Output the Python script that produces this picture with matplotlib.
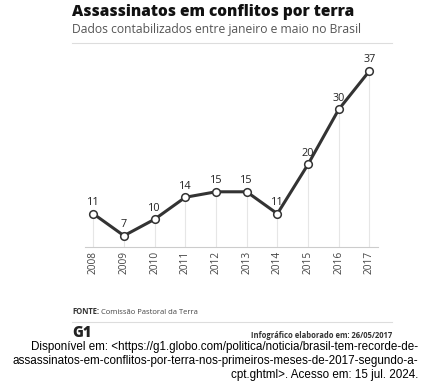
import matplotlib

matplotlib.use("Agg")
import matplotlib.pyplot as plt
from matplotlib.lines import Line2D

years = [2008, 2009, 2010, 2011, 2012, 2013, 2014, 2015, 2016, 2017]
killings = [11, 7, 10, 14, 15, 15, 11, 20, 30, 37]

C_LINE = "#333333"
C_GRID = "#e6e6e6"

W, H = 425, 386
fig = plt.figure(figsize=(W / 100, H / 100), dpi=100)


def fx(px):
    return px / W


def fy(py):
    return 1 - py / H


# header
fig.text(fx(72), fy(12), "Assassinatos em conflitos por terra", fontsize=11.2,
         fontweight="heavy", family="Open Sans", color="#111111", va="center")
fig.text(fx(72), fy(30), "Dados contabilizados entre janeiro e maio no Brasil", fontsize=8.7,
         family="Open Sans", color="#555555", va="center")
fig.add_artist(Line2D([fx(72), fx(392)], [fy(43), fy(43)], color="#dddddd", lw=0.8))

# chart
ax = fig.add_axes([fx(85), fy(246.7), fx(378) - fx(85), fy(60) - fy(246.7)])
ax.set_xlim(2007.73, 2017.28)
ax.set_ylim(5, 39)
ax.vlines(years, 5, killings, color=C_GRID, lw=0.8, zorder=1)
ax.plot(years, killings, color=C_LINE, lw=2.2, zorder=2,
        marker="o", markersize=5.5, markerfacecolor="white",
        markeredgecolor=C_LINE, markeredgewidth=1.1)
for x, y in zip(years, killings):
    ax.annotate(str(y), (x, y), xytext=(0, 4), textcoords="offset points",
                ha="center", va="bottom", fontsize=7.8, family="Open Sans",
                color="#222222", zorder=3)

for s in ["top", "right", "left"]:
    ax.spines[s].set_visible(False)
ax.spines["bottom"].set_color("#cccccc")
ax.spines["bottom"].set_linewidth(0.8)
ax.set_yticks([])
ax.set_xticks(years)
ax.set_xticklabels([str(y) for y in years], rotation=90, fontsize=7.3,
                   family="Open Sans", color="#444444")
ax.tick_params(axis="x", length=0, pad=3)
ax.patch.set_alpha(0)

# footer
fig.text(fx(72), fy(312), "FONTE:", fontsize=5.5, fontweight="bold",
         family="Open Sans", color="#333333", va="center")
fig.text(fx(101), fy(312), "Comissão Pastoral da Terra", fontsize=5.5,
         family="Open Sans", color="#444444", va="center")
fig.add_artist(Line2D([fx(72), fx(392)], [fy(322), fy(322)], color="#dddddd", lw=0.8))
fig.text(fx(72), fy(333), "G1", fontsize=10.5, fontweight="heavy",
         family="Open Sans", color="#222222", va="center")
fig.text(fx(392), fy(335), "Infográfico elaborado em: 26/05/2017", fontsize=5.5,
         fontweight="bold", family="Open Sans", color="#333333", va="center", ha="right")

cite = [
    "Disponível em: <https://g1.globo.com/politica/noticia/brasil-tem-recorde-de-",
    "assassinatos-em-conflitos-por-terra-nos-primeiros-meses-de-2017-segundo-a-",
    "cpt.ghtml>. Acesso em: 15 jul. 2024.",
]
for i, line in enumerate(cite):
    fig.text(fx(418), fy(347 + 14 * i), line, fontsize=8.4, family="Liberation Sans",
             color="black", va="center", ha="right")

fig.savefig("out.png", dpi=100)
